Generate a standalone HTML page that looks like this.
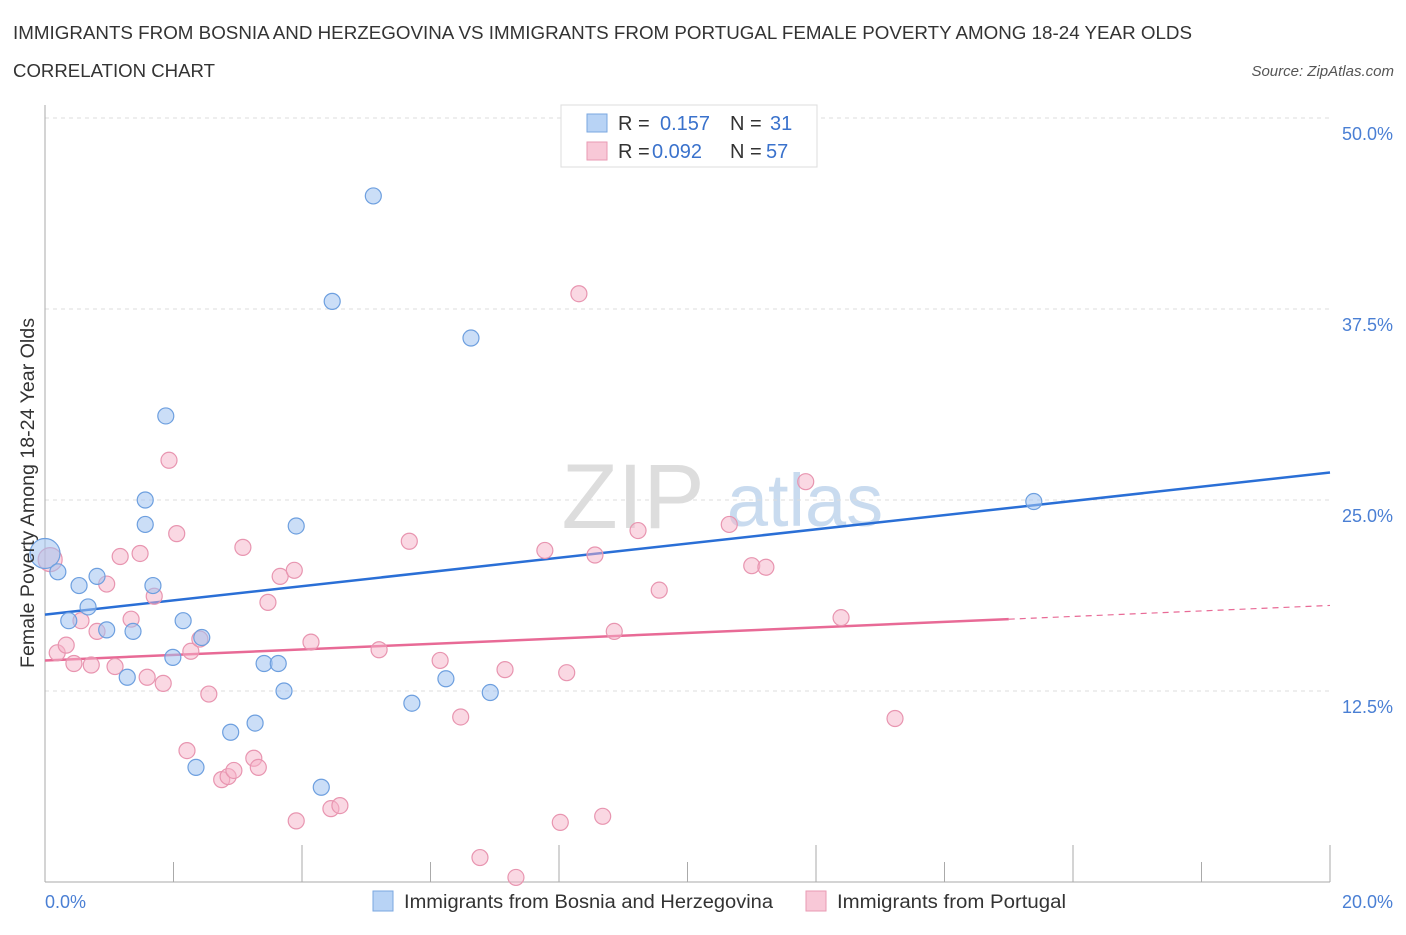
<!DOCTYPE html>
<html><head><meta charset="utf-8"><style>
body{margin:0;background:#fff;font-family:"Liberation Sans",sans-serif;}
svg text{font-family:"Liberation Sans",sans-serif;}
</style></head><body>
<svg id="chart" width="1406" height="930" viewBox="0 0 1406 930">
<text x="13" y="39" font-size="18.5" fill="#333" textLength="1179" lengthAdjust="spacingAndGlyphs">IMMIGRANTS FROM BOSNIA AND HERZEGOVINA VS IMMIGRANTS FROM PORTUGAL FEMALE POVERTY AMONG 18-24 YEAR OLDS</text>
<text x="13" y="77" font-size="18.5" fill="#333" textLength="202" lengthAdjust="spacingAndGlyphs">CORRELATION CHART</text>
<text x="1394" y="76" font-size="15" fill="#555" font-style="italic" text-anchor="end">Source: ZipAtlas.com</text>
<text x="633" y="528" font-size="92" fill="#ddd" font-family="Liberation Serif" text-anchor="middle">ZIP</text>
<text x="805" y="526" font-size="74" fill="#c9dbef" text-anchor="middle">atlas</text>
<g id="grid"></g><g id="axes"></g><g id="lines"></g><g id="pts"></g>
<text transform="translate(34,493) rotate(-90)" font-size="19" fill="#333" text-anchor="middle" textLength="350" lengthAdjust="spacingAndGlyphs">Female Poverty Among 18-24 Year Olds</text>
<text x="45" y="908" font-size="18" fill="#4a7fd4">0.0%</text>
<text x="1393" y="908" font-size="18" fill="#4a7fd4" text-anchor="end">20.0%</text>
<g>
<rect x="561" y="105" width="256" height="62" fill="#fff" stroke="#ddd"/>
<rect x="587" y="114" width="20" height="18" fill="#b8d3f5" stroke="#7aa7e0"/>
<rect x="587" y="142" width="20" height="18" fill="#f8c8d7" stroke="#e99ab3"/>
<text x="618" y="130" font-size="20" fill="#333">R = </text><text x="660" y="130" font-size="20" fill="#3a72cc">0.157</text>
<text x="730" y="130" font-size="20" fill="#333">N = </text><text x="770" y="130" font-size="20" fill="#3a72cc">31</text>
<text x="618" y="158" font-size="20" fill="#333">R = </text><text x="652" y="158" font-size="20" fill="#3a72cc">0.092</text>
<text x="730" y="158" font-size="20" fill="#333">N = </text><text x="766" y="158" font-size="20" fill="#3a72cc">57</text>
</g>
<g>
<rect x="373" y="891" width="20" height="20" fill="#b8d3f5" stroke="#7aa7e0"/>
<text x="404" y="908" font-size="19" fill="#333" textLength="369" lengthAdjust="spacingAndGlyphs">Immigrants from Bosnia and Herzegovina</text>
<rect x="806" y="891" width="20" height="20" fill="#f8c8d7" stroke="#e99ab3"/>
<text x="837" y="908" font-size="19" fill="#333" textLength="229" lengthAdjust="spacingAndGlyphs">Immigrants from Portugal</text>
</g>
</svg>
<script>
const yTicks=[12.5,25,37.5,50];
const yTickLabels=["12.5%","25.0%","37.5%","50.0%"];
const xTicks=[0,2,4,6,8,10,12,14,16,18,20];
const bosniaX=[0,0.2,0.37,0.53,0.67,0.81,0.96,1.28,1.37,1.56,1.56,1.68,1.88,1.99,2.15,2.35,2.44,2.89,3.27,3.41,3.63,3.72,3.91,4.30,4.47,5.11,5.71,6.24,6.63,6.93,15.39];
const bosniaY=[21.5,20.3,17.1,19.4,18.0,20.0,16.5,13.4,16.4,25.0,23.4,19.4,30.5,14.7,17.1,7.5,16.0,9.8,10.4,14.3,14.3,12.5,23.3,6.2,38.0,44.9,11.7,13.3,35.6,12.4,24.9];
const portugalX=[0.08,0.19,0.33,0.45,0.56,0.72,0.81,0.96,1.09,1.17,1.34,1.48,1.59,1.70,1.84,1.93,2.05,2.21,2.27,2.41,2.55,2.75,2.85,2.94,3.08,3.25,3.32,3.47,3.66,3.88,3.91,4.14,4.45,4.59,5.20,5.67,6.15,6.47,6.77,7.16,7.33,7.78,8.02,8.12,8.31,8.56,8.68,8.86,9.23,9.56,10.65,11.00,11.22,11.84,12.39,13.23];
const portugalY=[21.1,15.0,15.5,14.3,17.1,14.2,16.4,19.5,14.1,21.3,17.2,21.5,13.4,18.7,13.0,27.6,22.8,8.6,15.1,15.9,12.3,6.7,6.9,7.3,21.9,8.1,7.5,18.3,20.0,20.4,4.0,15.7,4.8,5.0,15.2,22.3,14.5,10.8,1.6,13.9,0.3,21.7,3.9,13.7,38.5,21.4,4.3,16.4,23.0,19.1,23.4,20.7,20.6,26.2,17.3,10.7];
const bosniaTrend=[17.5,26.8];
const portugalTrend=[14.5,18.1];
const portugalSolidEnd=15.0;
const X=v=>45+v/20*1285, Y=v=>882-v/50*764;
const NS="http://www.w3.org/2000/svg";
function mk(p,t,a){const e=document.createElementNS(NS,t);for(const k in a)e.setAttribute(k,a[k]);document.getElementById(p).appendChild(e);return e;}
yTicks.forEach((t,i)=>{
 const l=mk('grid','line',{x1:45,x2:1330,y1:Y(t),y2:Y(t),stroke:'#ddd','stroke-dasharray':'4,4'});
 
 
 const tx=mk('grid','text',{x:1393,y:Y(t)+22,'font-size':18,fill:'#4a7fd4','text-anchor':'end'});
 tx.textContent=yTickLabels[i];
 
 
});
let a=mk('axes','line',{x1:45,x2:45,y1:105,y2:882,stroke:'#aaa'});


a=mk('axes','line',{x1:45,x2:1330,y1:882,y2:882,stroke:'#aaa'});


xTicks.forEach(t=>{const l=mk('axes','line',{x1:X(t),x2:X(t),y1:882,y2:(t%4==0?845:862),stroke:'#aaa'});
 
 });
let tl=mk('lines','line',{x1:X(0),x2:X(20),y1:Y(bosniaTrend[0]),y2:Y(bosniaTrend[1]),stroke:'#2a6fd6','stroke-width':2.5});


const py=v=>portugalTrend[0]+(portugalTrend[1]-portugalTrend[0])*v/20;
tl=mk('lines','line',{x1:X(0),x2:X(portugalSolidEnd),y1:Y(py(0)),y2:Y(py(portugalSolidEnd)),stroke:'#e86a96','stroke-width':2.5});


tl=mk('lines','line',{x1:X(portugalSolidEnd),x2:X(20),y1:Y(py(portugalSolidEnd)),y2:Y(py(20)),stroke:'#e86a96','stroke-width':1.2,'stroke-dasharray':'6,5'});


portugalX.forEach((x,i)=>{const c=mk('pts','circle',{cx:X(x),cy:Y(portugalY[i]),r:i==0?12:8,fill:'rgba(245,178,200,0.5)',stroke:'#e895b0','stroke-width':1.2});
 
 });
bosniaX.forEach((x,i)=>{const c=mk('pts','circle',{cx:X(x),cy:Y(bosniaY[i]),r:i==0?15:8,fill:'rgba(160,195,240,0.55)',stroke:'#6d9fdf','stroke-width':1.2});
 
 });
</script>
</body></html>
